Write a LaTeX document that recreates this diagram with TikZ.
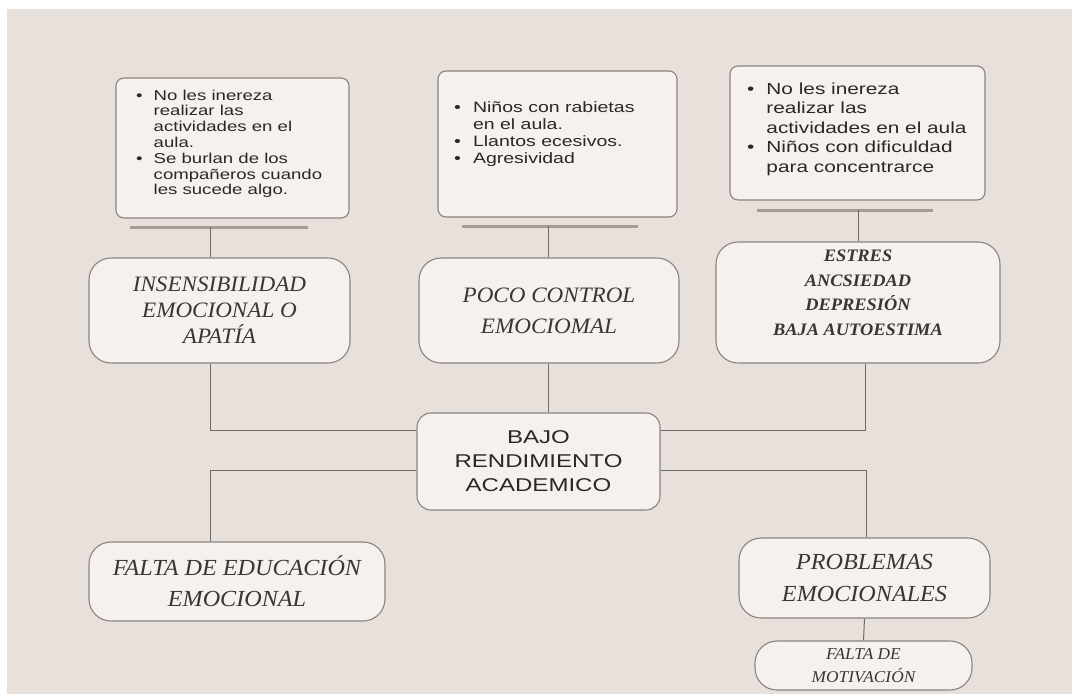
\documentclass[tikz,border=0pt]{standalone}
\usepackage{fontspec}
\setmainfont{Liberation Serif}[FakeStretch=1.05]
\newfontfamily\boxsans{Liberation Sans}[FakeStretch=1.3]
\definecolor{bgc}{HTML}{E7E0DB}
\definecolor{cardc}{HTML}{F6F1EF}
\definecolor{edgec}{HTML}{8A8480}
\definecolor{barc}{HTML}{A39D98}
\definecolor{linec}{HTML}{6F6A66}
\definecolor{sansc}{HTML}{2A2827}
\definecolor{serifc}{HTML}{3A3634}
\begin{document}
\begin{tikzpicture}[x=1pt,y=-1pt,
  card/.style={draw=edgec, fill=cardc, line width=1.1pt, rounded corners=#1, inner sep=0pt},
  card/.default=8pt,
  btxt/.style={font=\boxsans, text=sansc, inner sep=0pt},
  sertxt/.style={font=\itshape\fontsize{22}{26}\selectfont, text=serifc, align=center},
  conn/.style={draw=linec, line width=1pt},
  bar/.style={draw=barc, line width=3pt}]
\useasboundingbox (0,0) rectangle (1072,694);
\fill[white] (0,0) rectangle (1072,694);
\fill[bgc] (7,9) rectangle (1072,694);

% top bullet boxes
\node[card=8pt, minimum width=233pt, minimum height=140pt] (b1) at (232.5,148) {};
\node[card=8pt, minimum width=239pt, minimum height=146pt] (b2) at (557.5,144) {};
\node[card=8pt, minimum width=255pt, minimum height=134pt] (b3) at (857.5,133) {};

\node[btxt, anchor=base west] (b1t) at (136,100) {\fontsize{14.3}{15.8}\selectfont
\begin{tabular}[t]{@{}l@{\hspace{11pt}}l@{}}
\textbullet & No les inereza\\
 & realizar las\\
 & actividades en el\\
 & aula.\\
\textbullet & Se burlan de los\\
 & compañeros cuando\\
 & les sucede algo.
\end{tabular}};
\node[btxt, anchor=base west] (b2t) at (454,112) {\fontsize{15}{17}\selectfont
\begin{tabular}[t]{@{}l@{\hspace{12pt}}l@{}}
\textbullet & Niños con rabietas\\
 & en el aula.\\
\textbullet & Llantos ecesivos.\\
\textbullet & Agresividad
\end{tabular}};
\node[btxt, anchor=base west] (b3t) at (747,94) {\fontsize{16}{19.5}\selectfont
\begin{tabular}[t]{@{}l@{\hspace{12pt}}l@{}}
\textbullet & No les inereza\\
 & realizar las\\
 & actividades en el aula\\
\textbullet & Niños con dificuldad\\
 & para concentrarce
\end{tabular}};

% bars under the top boxes
\coordinate (bar1l) at (130,227); \coordinate (bar1r) at (308,227); \coordinate (bar1) at (210,227);
\coordinate (bar2l) at (462,226); \coordinate (bar2r) at (638,226); \coordinate (bar2) at (548,226);
\coordinate (bar3l) at (757,210); \coordinate (bar3r) at (933,210); \coordinate (bar3) at (858,210);
\draw[bar] (bar1l) -- (bar1r);
\draw[bar] (bar2l) -- (bar2r);
\draw[bar] (bar3l) -- (bar3r);

% middle boxes
\node[card=22pt, minimum width=261pt, minimum height=105pt, sertxt] (insens) at (219.5,310.5)
  {INSENSIBILIDAD\\EMOCIONAL O\\APATÍA};
\node[card=22pt, minimum width=260pt, minimum height=105pt, sertxt, font=\itshape\fontsize{22}{31}\selectfont] (poco) at (549,310.5)
  {POCO CONTROL\\EMOCIOMAL};
\node[card=22pt, minimum width=284pt, minimum height=121pt] (estres) at (858,302.5) {};
\node[font=\bfseries\itshape\fontsize{17.5}{24.5}\selectfont, text=serifc, align=center] (estrest) at (858,293)
  {ESTRES\\ANCSIEDAD\\DEPRESIÓN\\BAJA AUTOESTIMA};

% central box
\node[card=14pt, minimum width=243pt, minimum height=97pt, font=\boxsans\fontsize{18.5}{24}\selectfont, text=sansc, align=center] (bajo) at (538.5,461.5)
  {BAJO\\RENDIMIENTO\\ACADEMICO};

% bottom boxes
\node[card=22pt, minimum width=296pt, minimum height=79pt, sertxt, font=\itshape\fontsize{23}{31}\selectfont] (falta) at (237,581.5)
  {FALTA DE EDUCACIÓN\\EMOCIONAL};
\node[card=22pt, minimum width=251pt, minimum height=80pt, sertxt, font=\itshape\fontsize{23}{32}\selectfont] (probl) at (864.5,578)
  {PROBLEMAS\\EMOCIONALES};
\node[card=22pt, minimum width=217pt, minimum height=49pt, sertxt, font=\itshape\fontsize{16.5}{23}\selectfont] (motiv) at (863.5,665.5)
  {FALTA DE\\MOTIVACIÓN};

% connectors
\draw[conn] (bar1) -- (bar1 |- insens.north);
\draw[conn] (bar2) -- (bar2 |- poco.north);
\draw[conn] (bar3) -- (bar3 |- estres.north);
\coordinate (jl) at (210,430);
\coordinate (jr) at (865,430);
\coordinate (kl) at (210,470);
\coordinate (kr) at (866,470);
\draw[conn] (jl |- insens.south) -- (jl) -- (jl -| bajo.west);
\draw[conn] (jr |- estres.south) -- (jr) -- (jr -| bajo.east);
\draw[conn] (bar2 |- poco.south) -- (bar2 |- bajo.north);
\draw[conn] (kl -| bajo.west) -- (kl) -- (kl |- falta.north);
\draw[conn] (kr -| bajo.east) -- (kr) -- (kr |- probl.north);
\draw[conn] (probl.south) -- (motiv.north);
\end{tikzpicture}
\end{document}
